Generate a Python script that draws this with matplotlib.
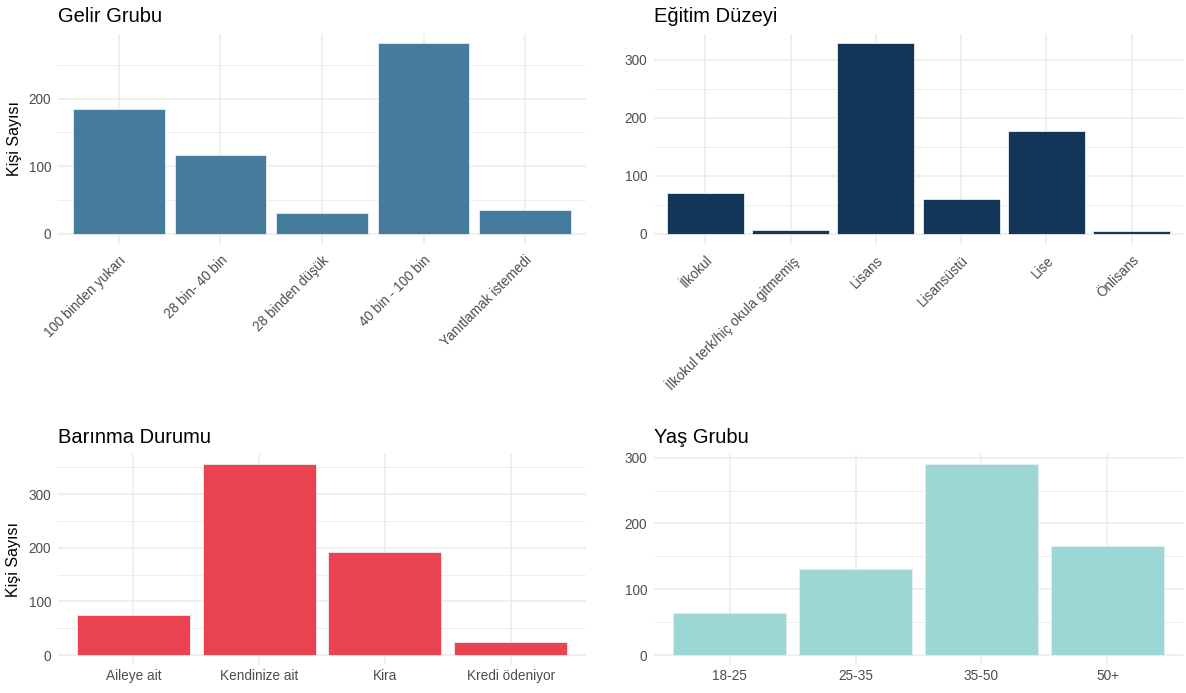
import matplotlib
matplotlib.use("Agg")
import matplotlib.pyplot as plt
import numpy as np

plt.rcParams['font.family'] = ['Liberation Sans', 'DejaVu Sans']

# ─── Data ─────────────────────────────────────────────────────────────────────
gelir_cats = ["100 binden yukarı", "28 bin- 40 bin", "28 binden düşük",
              "40 bin - 100 bin", "Yanıtlamak istemedi"]
gelir_vals = [184, 117, 31, 282, 35]

egitim_cats = ["İlkokul", "İlkokul terk/hiç okula gitmemiş", "Lisans",
               "Lisansüstü", "Lise", "Önlisans"]
egitim_vals = [70, 7, 329, 61, 177, 5]

barinma_cats = ["Aileye ait", "Kendinize ait", "Kira", "Kredi ödeniyor"]
barinma_vals = [75, 357, 192, 24]

yas_cats = ["18-25", "25-35", "35-50", "50+"]
yas_vals = [64, 130, 291, 165]

# ─── Style ────────────────────────────────────────────────────────────────────
GRID = "#ebebeb"
TICK = "#4d4d4d"

W, H = 1186, 693
fig = plt.figure(figsize=(W / 100, H / 100), dpi=100)


def px_axes(x0, y0, x1, y1):
    return fig.add_axes([x0 / W, 1 - y1 / H, (x1 - x0) / W, (y1 - y0) / H])


def panel(ax, cats, vals, color, title, ylabel=None, rotate=False):
    x = np.arange(len(cats))
    vmax = max(vals)
    ax.bar(x, vals, width=0.9, color=color, edgecolor="#e8eef0", linewidth=0.6, zorder=3)
    ax.set_xlim(-0.6, len(cats) - 0.4)
    ax.set_ylim(-0.05 * vmax, 1.05 * vmax)

    ticks = [t for t in range(0, 400, 100) if t <= 1.05 * vmax]
    minors = [t for t in range(50, 400, 100) if t <= 1.05 * vmax]
    ax.set_yticks(ticks)
    ax.set_yticks(minors, minor=True)
    ax.set_xticks(x)
    if rotate:
        ax.set_xticklabels(cats, rotation=45, ha="right", rotation_mode="anchor")
    else:
        ax.set_xticklabels(cats)

    ax.grid(True, which="major", color=GRID, linewidth=1.1, zorder=0)
    ax.grid(True, which="minor", axis="y", color=GRID, linewidth=0.6, zorder=0)
    ax.set_axisbelow(True)
    for s in ax.spines.values():
        s.set_visible(False)
    ax.tick_params(which="both", length=0, labelsize=9.8, labelcolor=TICK)
    ax.tick_params(axis="y", pad=5)
    ax.tick_params(axis="x", pad=7 if rotate else 3)
    ax.set_title(title, loc="left", fontsize=14.5, pad=8, color="black")
    if ylabel:
        ax.set_ylabel(ylabel, fontsize=11.5, labelpad=5)


ax1 = px_axes(58, 33.6, 586, 243.5)
panel(ax1, gelir_cats, gelir_vals, "#457b9d", "Gelir Grubu", "Kişi Sayısı", rotate=True)

ax2 = px_axes(654, 33.6, 1183, 243.5)
panel(ax2, egitim_cats, egitim_vals, "#133558", "Eğitim Düzeyi", rotate=True)

ax3 = px_axes(58, 454, 586, 664.6)
panel(ax3, barinma_cats, barinma_vals, "#ea4350", "Barınma Durumu", "Kişi Sayısı")

ax4 = px_axes(654, 454, 1183, 664.6)
panel(ax4, yas_cats, yas_vals, "#9cd7d6", "Yaş Grubu")

fig.savefig("out.png", dpi=100, facecolor="white")
